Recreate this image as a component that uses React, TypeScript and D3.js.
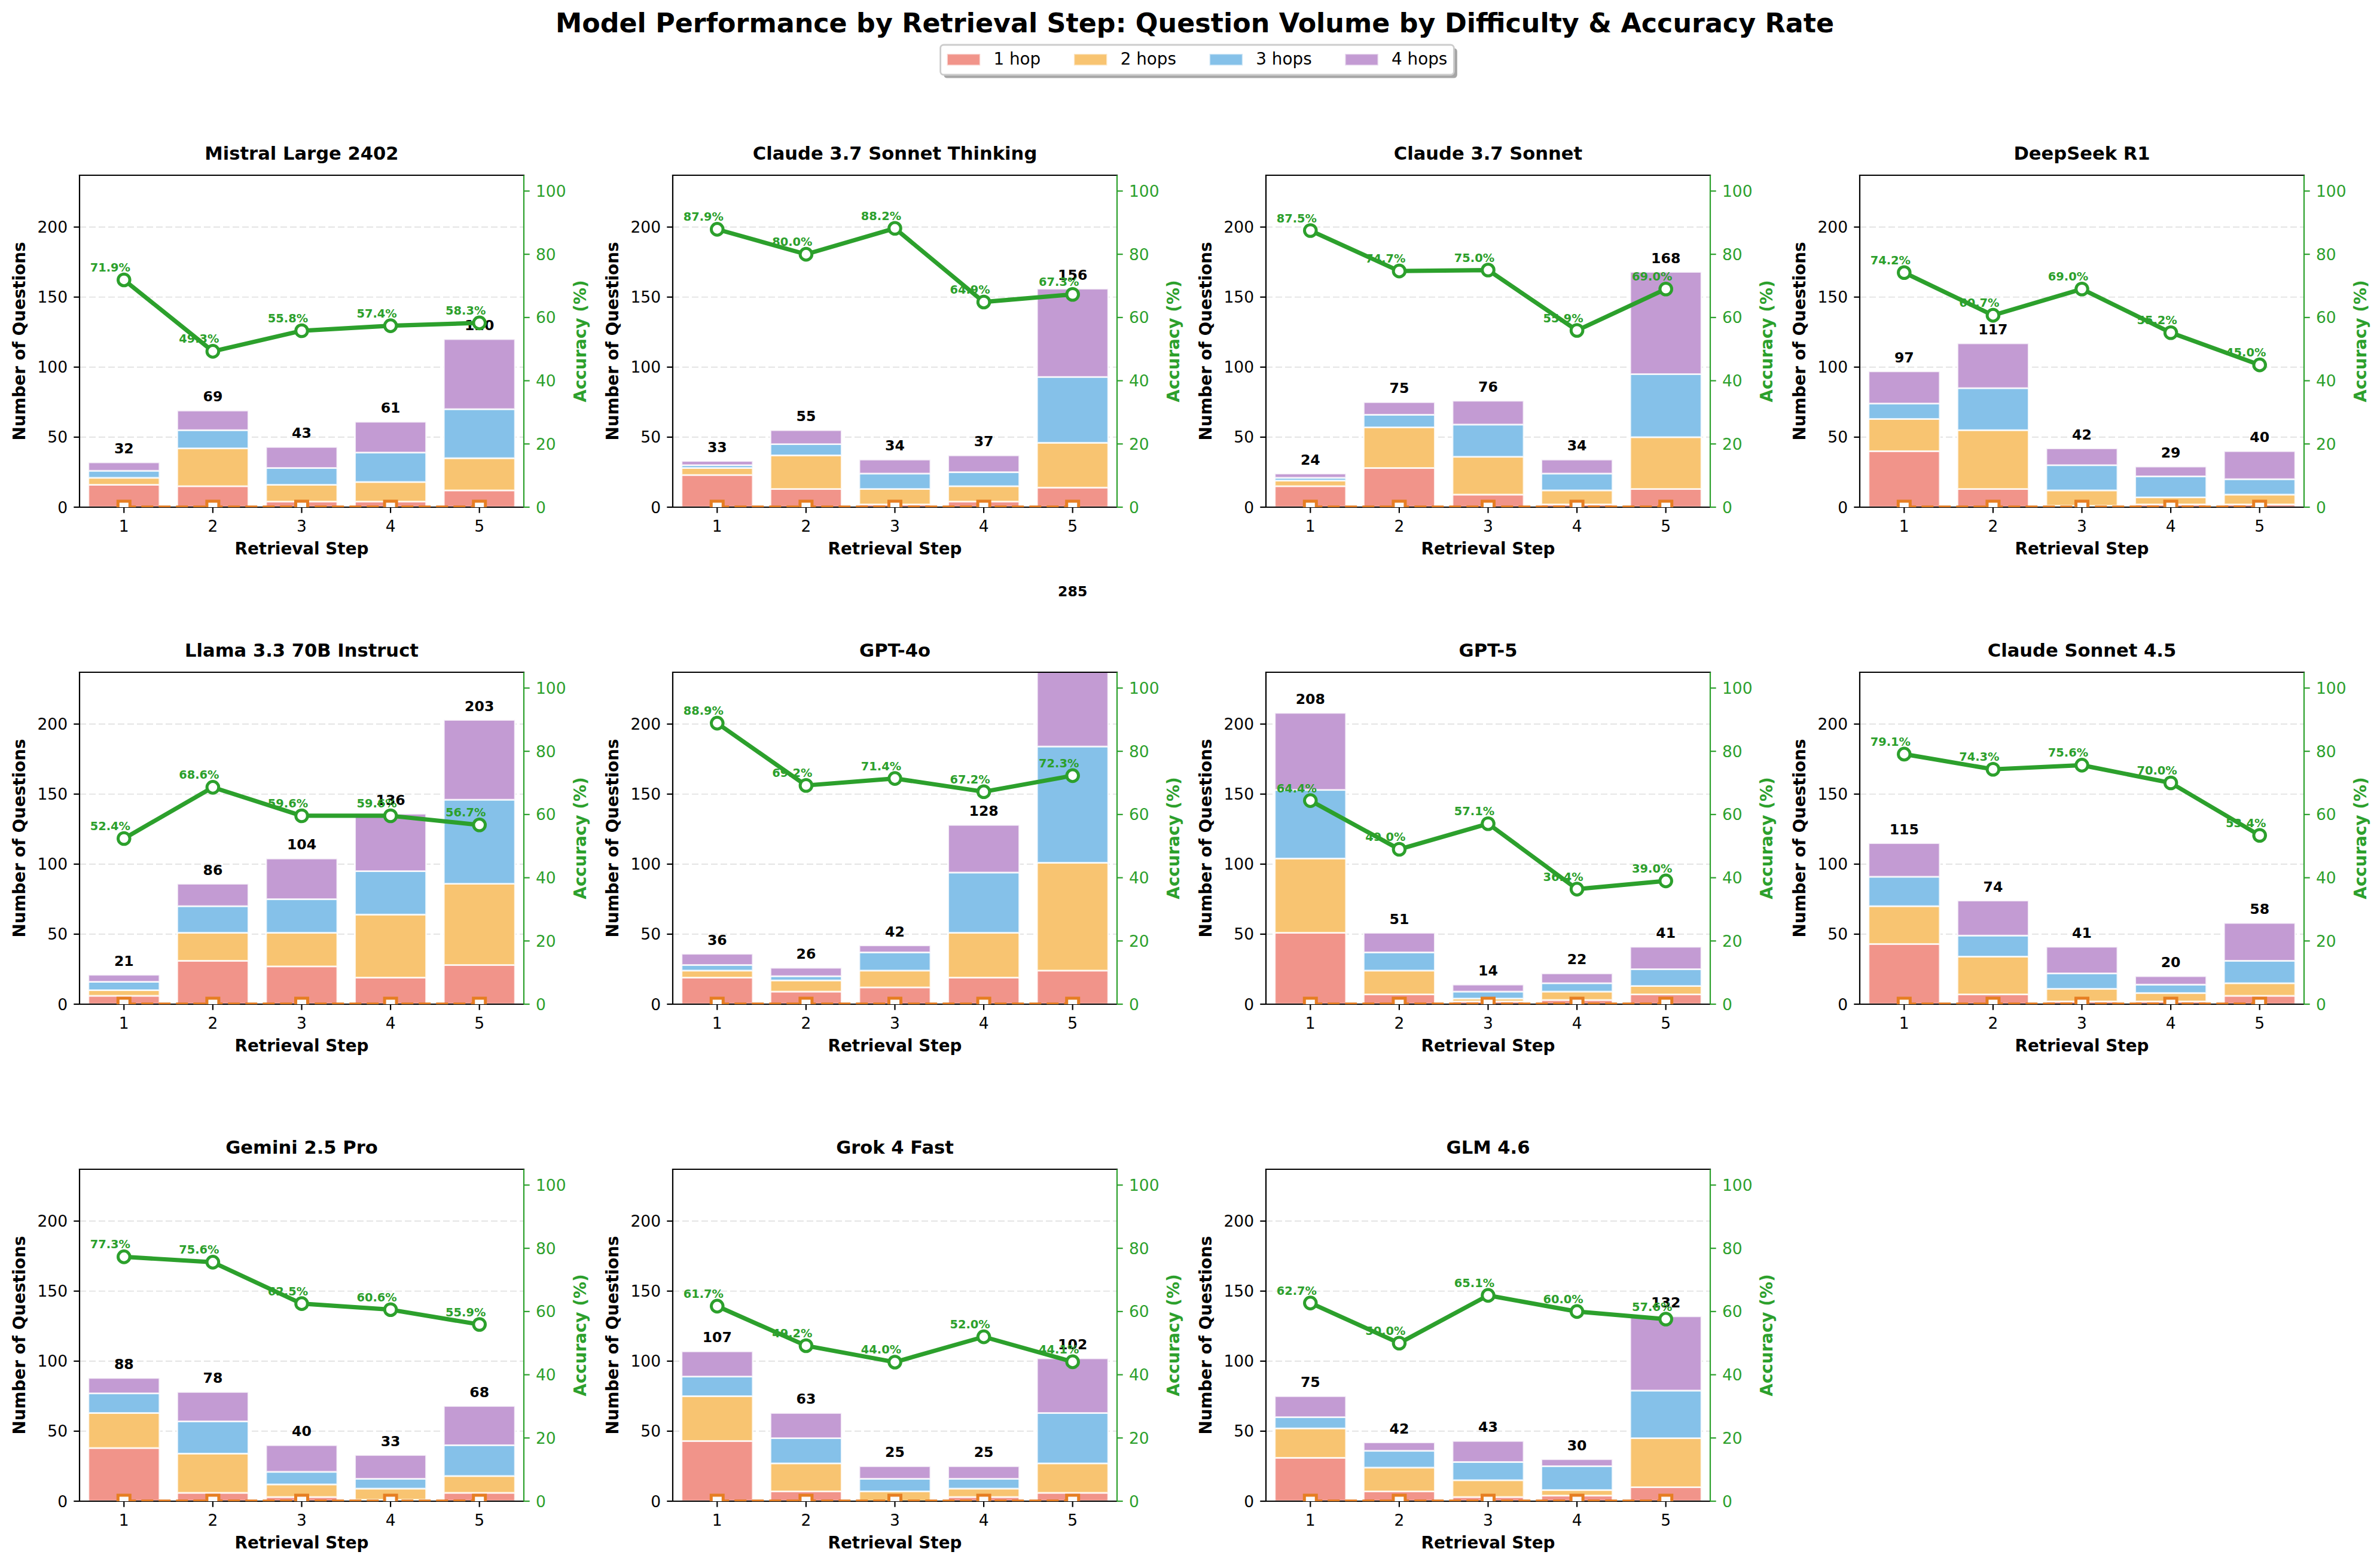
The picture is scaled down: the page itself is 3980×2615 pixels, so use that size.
import React from 'react';
import * as d3 from 'd3';

const W = 3980;
const H = 2615;

const models = [
  'Mistral Large 2402',
  'Claude 3.7 Sonnet Thinking',
  'Claude 3.7 Sonnet',
  'DeepSeek R1',
  'Llama 3.3 70B Instruct',
  'GPT-4o',
  'GPT-5',
  'Claude Sonnet 4.5',
  'Gemini 2.5 Pro',
  'Grok 4 Fast',
  'GLM 4.6',
];

const steps = [1, 2, 3, 4, 5];
const hopLabels = ['1 hop', '2 hops', '3 hops', '4 hops'];

const hop1 = [
  [16, 15, 4, 4, 12],
  [23, 13, 2, 4, 14],
  [15, 28, 9, 2, 13],
  [40, 13, 1, 2, 2],
  [6, 31, 27, 19, 28],
  [19, 9, 12, 19, 24],
  [51, 7, 2, 3, 7],
  [43, 7, 2, 2, 6],
  [38, 6, 3, 1, 6],
  [43, 7, 0, 3, 6],
  [31, 7, 3, 4, 10],
];
const hop2 = [
  [5, 27, 12, 14, 23],
  [5, 24, 11, 11, 32],
  [4, 29, 27, 10, 37],
  [23, 42, 11, 5, 7],
  [4, 20, 24, 45, 58],
  [5, 8, 12, 32, 77],
  [53, 17, 2, 6, 6],
  [27, 27, 9, 6, 9],
  [25, 28, 9, 8, 12],
  [32, 20, 7, 6, 21],
  [21, 17, 12, 4, 35],
];
const hop3 = [
  [5, 13, 12, 21, 35],
  [2, 8, 11, 10, 47],
  [2, 9, 23, 12, 45],
  [11, 30, 18, 15, 11],
  [6, 19, 24, 31, 60],
  [4, 3, 13, 43, 83],
  [49, 13, 5, 6, 12],
  [21, 15, 11, 6, 16],
  [14, 23, 9, 7, 22],
  [14, 18, 9, 7, 36],
  [8, 12, 13, 17, 34],
];
const hop4 = [
  [6, 14, 15, 22, 50],
  [3, 10, 10, 12, 63],
  [3, 9, 17, 10, 73],
  [23, 32, 12, 7, 20],
  [5, 16, 29, 41, 57],
  [8, 6, 5, 34, 101],
  [55, 14, 5, 7, 16],
  [24, 25, 19, 6, 27],
  [11, 21, 19, 17, 28],
  [18, 18, 9, 9, 39],
  [15, 6, 15, 5, 53],
];
const accuracy = [
  [71.9, 49.3, 55.8, 57.4, 58.3],
  [87.9, 80.0, 88.2, 64.9, 67.3],
  [87.5, 74.7, 75.0, 55.9, 69.0],
  [74.2, 60.7, 69.0, 55.2, 45.0],
  [52.4, 68.6, 59.6, 59.6, 56.7],
  [88.9, 69.2, 71.4, 67.2, 72.3],
  [64.4, 49.0, 57.1, 36.4, 39.0],
  [79.1, 74.3, 75.6, 70.0, 53.4],
  [77.3, 75.6, 62.5, 60.6, 55.9],
  [61.7, 49.2, 44.0, 52.0, 44.1],
  [62.7, 50.0, 65.1, 60.0, 57.6],
];
// secondary orange series (all at zero in the reference)
const secondarySeries = [0, 0, 0, 0, 0];

const yTicks = [0, 50, 100, 150, 200];
const accTicks = [0, 20, 40, 60, 80, 100];
const Y_MAX = 237;
const ACC_MAX = 105;

const hopColors = ['#f1948a', '#f8c471', '#85c1e9', '#c39bd3'];
const GREEN = '#2ca02c';
const ORANGE = '#e67e22';
const FONT = '"DejaVu Sans", sans-serif';

const PW = 743;
const PH = 555;
const colLeft = [133, 1125, 2117, 3110];
const rowTop = [293, 1124, 1955];

type Row = { step: number; h1: number; h2: number; h3: number; h4: number; total: number; acc: number };

function Panel({ idx }: { idx: number }) {
  const col = idx % 4;
  const row = Math.floor(idx / 4);
  const left = colLeft[col];
  const top = rowTop[row];
  const x = d3.scaleLinear().domain([0.5, 5.5]).range([0, PW]);
  const y = d3.scaleLinear().domain([0, Y_MAX]).range([PH, 0]);
  const ya = d3.scaleLinear().domain([0, ACC_MAX]).range([PH, 0]);

  const rows: Row[] = steps.map((s, i) => {
    const a = hop1[idx][i], b = hop2[idx][i], c = hop3[idx][i], d = hop4[idx][i];
    return { step: s, h1: a, h2: b, h3: c, h4: d, total: a + b + c + d, acc: accuracy[idx][i] };
  });
  const stacked = d3.stack<Row>().keys(['h1', 'h2', 'h3', 'h4'])(rows);
  const bw = x(1.4) - x(0.6);
  const clipId = `clip-${idx}`;

  const accLine = d3.line<Row>().x((d) => x(d.step)).y((d) => ya(d.acc));
  const secLine = d3
    .line<number>()
    .x((_, i) => x(steps[i]))
    .y((d) => ya(d));

  return (
    <g transform={`translate(${left},${top})`} fontFamily={FONT}>
      <defs>
        <clipPath id={clipId}>
          <rect x={0} y={0} width={PW} height={PH} />
        </clipPath>
      </defs>
      {yTicks.map((t) => (
        <line key={`g${t}`} x1={0} x2={PW} y1={y(t)} y2={y(t)} stroke="#e6e6e6" strokeWidth={2.2} strokeDasharray="11 5" />
      ))}
      <g clipPath={`url(#${clipId})`}>
        {stacked.map((layer, li) =>
          layer.map((seg, si) => (
            <rect
              key={`b${li}-${si}`}
              x={x(rows[si].step) - bw / 2}
              y={y(seg[1])}
              width={bw}
              height={Math.max(0, y(seg[0]) - y(seg[1]))}
              fill={hopColors[li]}
              stroke="#ffffff"
              strokeOpacity={0.8}
              strokeWidth={2.8}
            />
          ))
        )}
      </g>
      {rows.map((r) => (
        <text key={`t${r.step}`} x={x(r.step)} y={y(r.total) - 15} textAnchor="middle" fontSize={23.6} fontWeight="bold" fill="#000">
          {r.total}
        </text>
      ))}
      {yTicks.map((t) => (
        <g key={`yl${t}`}>
          <line x1={-9.7} x2={0} y1={y(t)} y2={y(t)} stroke="#000" strokeWidth={2.2} />
          <text x={-20} y={y(t)} dy="0.36em" textAnchor="end" fontSize={26.5} fill="#000">
            {t}
          </text>
        </g>
      ))}
      {steps.map((s) => (
        <g key={`xl${s}`}>
          <line x1={x(s)} x2={x(s)} y1={PH} y2={PH + 9.7} stroke="#000" strokeWidth={2.2} />
          <text x={x(s)} y={PH + 41} textAnchor="middle" fontSize={26.5} fill="#000">
            {s}
          </text>
        </g>
      ))}
      <text x={PW / 2} y={PH + 79} textAnchor="middle" fontSize={27.8} fontWeight="bold" fill="#000">
        Retrieval Step
      </text>
      <text transform={`translate(${-91},${PH / 2}) rotate(-90)`} textAnchor="middle" fontSize={27.8} fontWeight="bold" fill="#000">
        Number of Questions
      </text>
      <text x={PW / 2} y={-26} textAnchor="middle" fontSize={30.6} fontWeight="bold" fill="#000">
        {models[idx]}
      </text>
      <line x1={0} x2={PW} y1={PH} y2={PH} stroke="#000" strokeWidth={2.2} />
      <g clipPath={`url(#${clipId})`}>
        <path d={secLine(secondarySeries) || ''} fill="none" stroke={ORANGE} strokeWidth={5.5} strokeDasharray="20 9" />
        {secondarySeries.map((v, i) => (
          <rect key={`sq${i}`} x={x(steps[i]) - 10} y={ya(v) - 10} width={20} height={20} fill="#fbfbfb" stroke={ORANGE} strokeWidth={5} />
        ))}
        <path d={accLine(rows) || ''} fill="none" stroke={GREEN} strokeWidth={7.2} strokeLinejoin="round" />
        {rows.map((r) => (
          <circle key={`c${r.step}`} cx={x(r.step)} cy={ya(r.acc)} r={9.8} fill="#ffffff" stroke={GREEN} strokeWidth={5} />
        ))}
      </g>
      {rows.map((r) => (
        <text key={`a${r.step}`} x={x(r.step) - 23} y={ya(r.acc) - 14} textAnchor="middle" fontSize={19.4} fontWeight="bold" fill={GREEN}>
          {r.acc.toFixed(1)}%
        </text>
      ))}
      {accTicks.map((t) => (
        <g key={`yr${t}`}>
          <line x1={PW} x2={PW + 9.7} y1={ya(t)} y2={ya(t)} stroke={GREEN} strokeWidth={2.2} />
          <text x={PW + 20} y={ya(t)} dy="0.36em" textAnchor="start" fontSize={26.5} fill={GREEN}>
            {t}
          </text>
        </g>
      ))}
      <text transform={`translate(${PW + 104},${PH / 2}) rotate(-90)`} textAnchor="middle" fontSize={27.8} fontWeight="bold" fill={GREEN}>
        Accuracy (%)
      </text>
      <line x1={0} x2={PW} y1={0} y2={0} stroke="#000" strokeWidth={2.2} strokeLinecap="square" />
      <line x1={0} x2={0} y1={0} y2={PH} stroke="#000" strokeWidth={2.2} strokeLinecap="square" />
      <line x1={PW} x2={PW} y1={0} y2={PH} stroke={GREEN} strokeWidth={2.2} />
    </g>
  );
}

function Legend() {
  const fs = 27.8;
  const textW = [78.8, 93.3, 93.3, 93.3];
  const handle = 55.6;
  const pad = 22.2;
  const colSpace = 55.6;
  const border = 11;
  const total = border * 2 + handle * 4 + pad * 4 + textW.reduce((a, b) => a + b, 0) + colSpace * 3;
  const cx = 2002;
  const bx = cx - total / 2;
  const by = 75;
  const bh = 50;
  let cur = bx + border;
  const items = hopLabels.map((lab, i) => {
    const px = cur;
    cur += handle + pad + textW[i] + colSpace;
    return { lab, px, color: hopColors[i] };
  });
  return (
    <g fontFamily={FONT}>
      <rect x={bx + 5.5} y={by + 5.5} width={total} height={bh} rx={5.5} fill="#a6a6a6" />
      <rect x={bx} y={by} width={total} height={bh} rx={5.5} fill="#ffffff" stroke="#cccccc" strokeWidth={2.8} />
      {items.map((it) => (
        <g key={it.lab}>
          <rect x={it.px} y={90} width={handle} height={19.5} fill={it.color} stroke="#ffffff" strokeOpacity={0.6} strokeWidth={2.8} />
          <text x={it.px + handle + pad} y={108} fontSize={fs} fill="#000">
            {it.lab}
          </text>
        </g>
      ))}
    </g>
  );
}

export default function App() {
  return (
    <svg
      width={W}
      height={H}
      viewBox={`0 0 ${W} ${H}`}
      style={{ position: 'absolute', left: 0, top: 0, background: '#fff' }}
      xmlns="http://www.w3.org/2000/svg"
    >
      <rect x={0} y={0} width={W} height={H} fill="#fff" />
      <text x={1998} y={54} textAnchor="middle" fontFamily={FONT} fontSize={44.4} fontWeight="bold" fill="#000">
        Model Performance by Retrieval Step: Question Volume by Difficulty &amp; Accuracy Rate
      </text>
      <Legend />
      {models.map((_, i) => (
        <Panel key={i} idx={i} />
      ))}
    </svg>
  );
}
